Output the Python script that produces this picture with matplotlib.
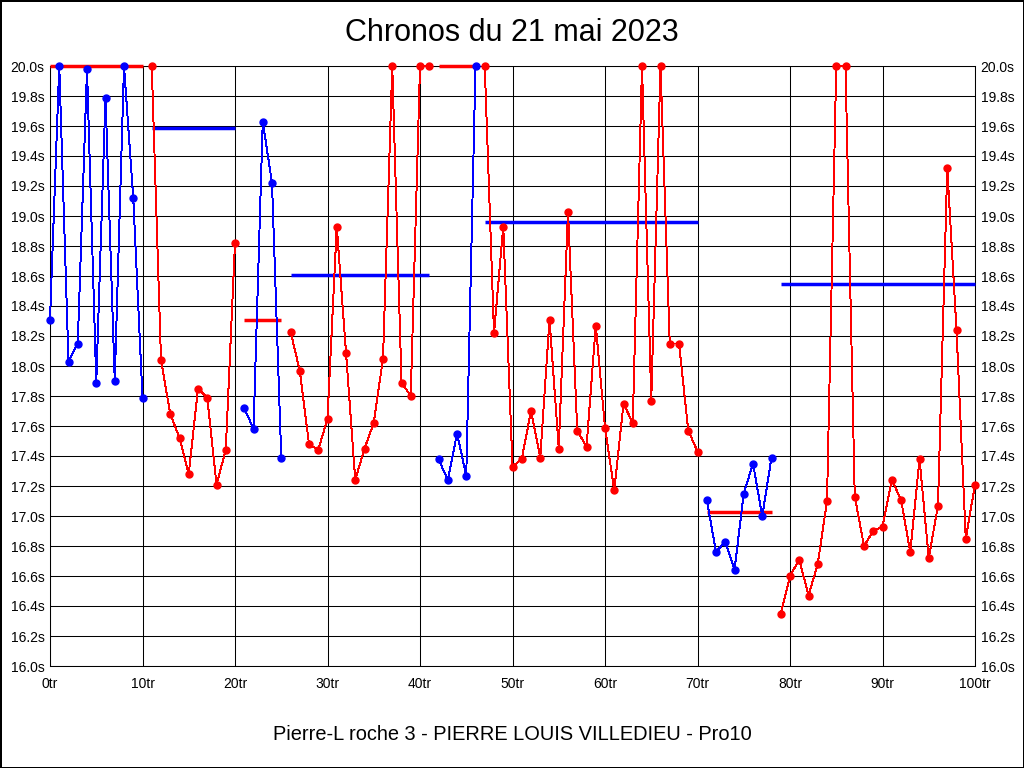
import matplotlib
matplotlib.use('Agg')
import matplotlib.pyplot as plt
from matplotlib.ticker import MultipleLocator, FuncFormatter

plt.rcParams['font.family'] = ['Liberation Sans', 'DejaVu Sans']

# tours par relais : premier tour de chaque relais et temps (s)
debut_relais = [0, 11, 21, 26, 42, 47, 71, 79]
couleur_relais = ['blue', 'red', 'blue', 'red', 'blue', 'red', 'blue', 'red']

temps_relais = [
    [18.31, 20.0, 18.03, 18.15, 19.98, 17.89, 19.79, 17.90, 20.0, 19.12, 17.79],
    [20.0, 18.04, 17.68, 17.52, 17.28, 17.85, 17.79, 17.21, 17.44, 18.82],
    [17.72, 17.58, 19.63, 19.22, 17.39],
    [18.23, 17.97, 17.48, 17.44, 17.65, 18.93, 18.09, 17.24, 17.45, 17.62,
     18.05, 20.0, 17.89, 17.80, 20.0, 20.0],
    [17.38, 17.24, 17.55, 17.27, 20.0],
    [20.0, 18.22, 18.93, 17.33, 17.38, 17.70, 17.39, 18.31, 17.45, 19.03,
     17.57, 17.46, 18.27, 17.59, 17.17, 17.75, 17.62, 20.0, 17.77, 20.0,
     18.15, 18.15, 17.57, 17.43],
    [17.11, 16.76, 16.83, 16.64, 17.15, 17.35, 17.00, 17.39],
    [16.35, 16.60, 16.71, 16.47, 16.68, 17.10, 20.0, 20.0, 17.13, 16.80,
     16.90, 16.93, 17.24, 17.11, 16.76, 17.38, 16.72, 17.07, 19.32, 18.24,
     16.85, 17.21],
]

# niveau moyen affiche par relais (couleur opposee)
niveau_relais = [20.0, 19.59, 18.31, 18.61, 20.0, 18.96, 17.03, 18.55]

titre = 'Chronos du 21 mai 2023'
pilote = 'Pierre-L roche 3 - PIERRE LOUIS VILLEDIEU - Pro10'

fig = plt.figure(figsize=(10.24, 7.68), dpi=100)
fig.patch.set_facecolor('white')
fig.patch.set_edgecolor('black')
fig.patch.set_linewidth(2)

ax = fig.add_axes([50 / 1024, 102 / 768, 925 / 1024, 600 / 768])

for debut, coul, temps, niveau in zip(debut_relais, couleur_relais,
                                      temps_relais, niveau_relais):
    tours = [debut + k for k in range(len(temps))]
    ax.plot(tours, temps, color=coul, lw=0.7, antialiased=False, zorder=4,
            clip_on=False)
    ax.plot(tours, temps, ls='none', marker='o', ms=5, color=coul, zorder=5,
            clip_on=False)
    autre = 'red' if coul == 'blue' else 'blue'
    ax.plot([tours[0], tours[-1]], [niveau, niveau], color=autre, lw=2.5,
            solid_capstyle='butt', zorder=3, clip_on=False)

ax.set_xlim(0, 100)
ax.set_ylim(16.0, 20.0)
ax.xaxis.set_major_locator(MultipleLocator(10))
ax.yaxis.set_major_locator(MultipleLocator(0.2))
ax.xaxis.set_major_formatter(FuncFormatter(lambda v, p: '%dtr' % round(v)))
ax.yaxis.set_major_formatter(FuncFormatter(lambda v, p: '%.1fs' % v))
ax.tick_params(length=0, labelsize=10, labelright=True, pad=4)
ax.tick_params(axis='x', pad=8)
ax.grid(color='black', lw=0.75)
ax.set_axisbelow(True)
for sp in ax.spines.values():
    sp.set_linewidth(0.75)

fig.text(0.5, 1 - 33 / 768, titre, ha='center', va='center', fontsize=22)
fig.text(0.5, 1 - 734 / 768, pilote, ha='center', va='center', fontsize=14.4)

plt.savefig('out.png', dpi=100, edgecolor='black')
